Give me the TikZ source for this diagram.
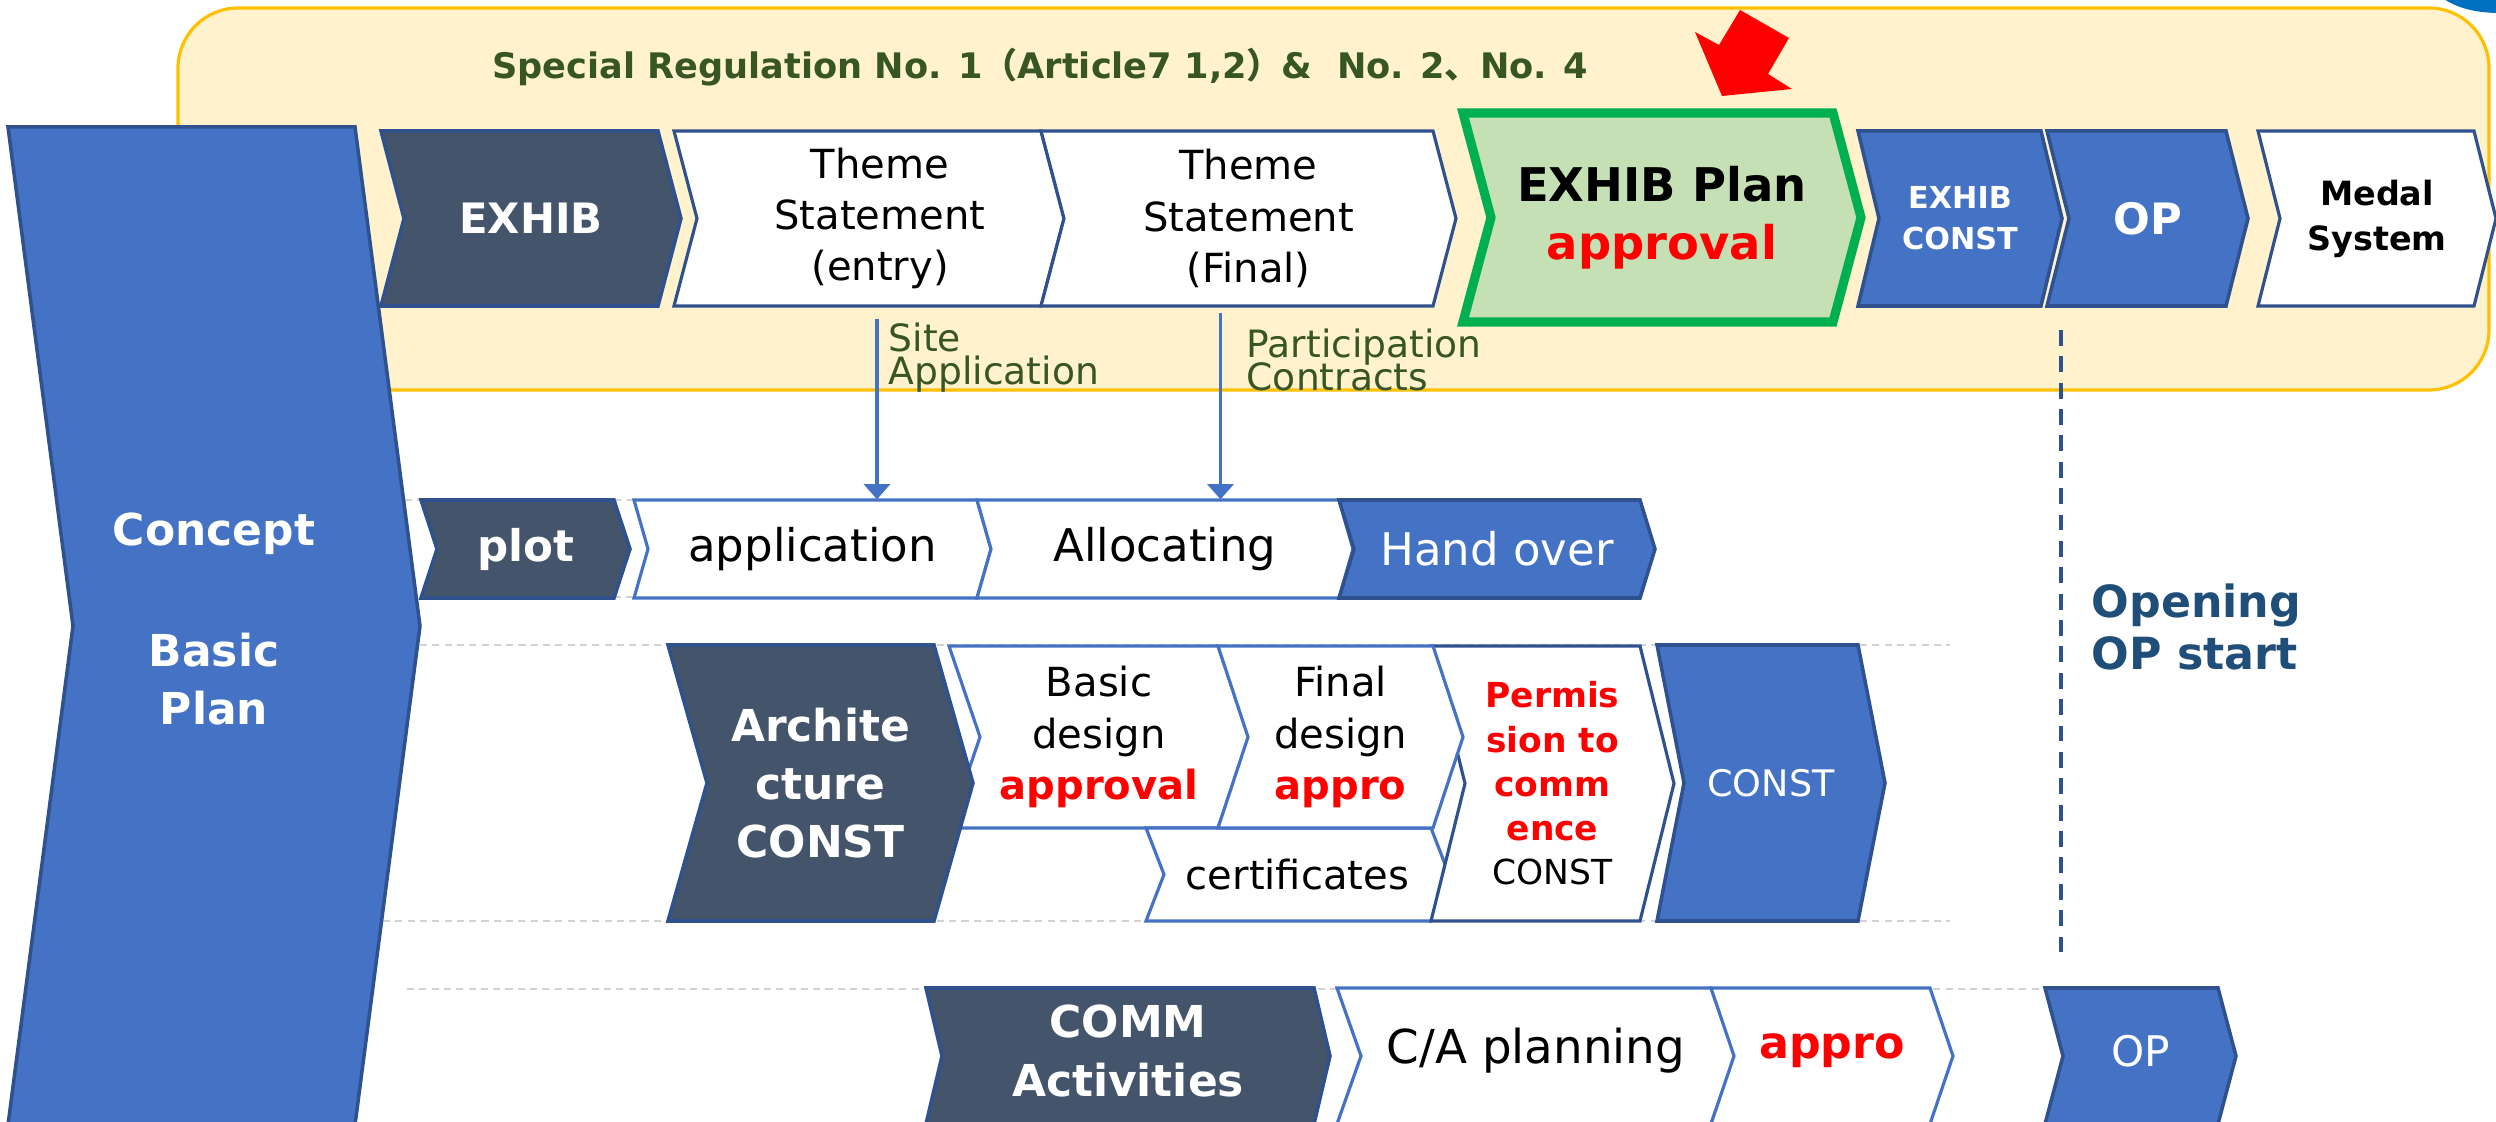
\documentclass[tikz,border=0pt]{standalone}
\usepackage{fontspec}
\setmainfont{DejaVu Sans}
\newfontfamily\jpfont{Noto Sans CJK JP}
\usepackage{tikz}
\usetikzlibrary{arrows.meta}
\usepackage{xcolor}

\definecolor{boxblue}{HTML}{4472C4}
\definecolor{edgeblue}{HTML}{2F528F}
\definecolor{slate}{HTML}{44546A}
\definecolor{planfill}{HTML}{C5E0B4}
\definecolor{planedge}{HTML}{00B050}
\definecolor{notefill}{HTML}{FFF2CC}
\definecolor{noteedge}{HTML}{FFC000}
\definecolor{notegreen}{HTML}{375623}
\definecolor{opblue}{HTML}{1F4E79}
\definecolor{blobblue}{HTML}{0070C0}

\newcommand{\redword}[1]{\textcolor{red}{\bfseries #1}}
% chevron: box style, text options, name, left x, right x, top y, bottom y, point depth, text
\newcommand{\chev}[9]{%
  \path[#1] (#4,#6) -- (#5,#6) -- (#5+#8,{(#6+#7)/2}) -- (#5,#7) -- (#4,#7) -- (#4+#8,{(#6+#7)/2}) -- cycle;
  \node[boxtext, minimum width={(#5-#4)*0.01cm}, minimum height={(#7-#6)*0.01cm}, #2] (#3) at ({(#4+#5)/2+#8/2},{(#6+#7)/2}) {#9};
}

\tikzset{
  darkbox/.style={fill=slate, draw=edgeblue, line width=1pt},
  bluebox/.style={fill=boxblue, draw=edgeblue, line width=1pt},
  whitebox/.style={fill=white, draw=boxblue, line width=0.9pt},
  planbox/.style={fill=planfill, draw=planedge, line width=2.6pt},
  boxtext/.style={align=center, inner sep=0pt, text=black},
  head/.style={text=white, font=\bfseries\fontsize{12.5}{16.5}\selectfont},
  plain/.style={font=\fontsize{11.4}{14.6}\selectfont},
  rowtwo/.style={font=\fontsize{12.8}{15}\selectfont},
  note/.style={text=notegreen, align=left, inner sep=0pt, font=\fontsize{10.7}{12.8}\selectfont},
  link/.style={-{Triangle[width=7.4pt,length=4.3pt]}, boxblue, line width=0.9pt},
  lane/.style={gray!35, dash pattern=on 2pt off 1.5pt, line width=0.6pt},
}

\begin{document}
\begin{tikzpicture}[x=0.01cm, y=-0.01cm]
  \useasboundingbox (0,0) rectangle (2496,1122);
  \clip (0,0) rectangle (2496,1122);

  % Regulation band
  \draw[noteedge, fill=notefill, line width=0.9pt, rounded corners=0.6cm] (178,8) rectangle (2489,390);
  \fill[blobblue] (2438,-5) .. controls (2455,8) and (2475,13) .. (2500,13) -- (2500,-5) -- cycle;
  \node[text=notegreen, font=\bfseries\fontsize{10}{12}\selectfont] (title) at (1040,67)
    {Special Regulation No. 1{\jpfont （}Article7 1,2{\jpfont ）}\&\ \ No. 2{\jpfont 、}No. 4};

  % Pointer to plan approval
  \fill[red] (1740,10) -- (1789,38) -- (1768,74) -- (1792,89) -- (1722,96) -- (1695,32) -- (1719,45) -- cycle;

  % Lanes
  \draw[lane] (405,500) -- (1640,500);
  \draw[lane] (614,597) -- (1640,597);
  \draw[lane] (420,645) -- (1950,645);
  \draw[lane] (383,921) -- (1950,921);
  \draw[lane] (407,989) -- (2060,989);

  % Concept / basic plan
  \chev{bluebox}{head, shift={(0,-7)}}{concept}{8}{355}{127}{1125}{65}{Concept\\[18pt]Basic\\Plan}

  % Exhibition row
  \chev{darkbox}{head, font=\bfseries\fontsize{11.9}{14}\selectfont}{exhib}{381}{658}{131}{306}{23}{EXHIB}
  \chev{whitebox, draw=edgeblue}{plain, shift={(11,0)}}{entry}{674}{1041}{131}{306}{23}{Theme\\Statement\\(entry)}
  \chev{whitebox, draw=edgeblue}{plain}{final}{1041}{1433}{131}{306}{23}{Theme\\Statement\\(Final)}
  \chev{bluebox}{text=white, font=\bfseries\fontsize{8.6}{11.7}\selectfont}{xconst}{1858}{2041}{131}{306}{21}{EXHIB\\CONST}
  \chev{planbox}{font=\bfseries\fontsize{13.2}{16.5}\selectfont}{plan}{1463}{1833}{113}{322}{28}{EXHIB Plan\\\redword{approval}}
  \chev{bluebox}{head, font=\bfseries\fontsize{12.3}{14}\selectfont}{opone}{2047}{2226}{131}{306}{22}{OP}
  \chev{whitebox, draw=edgeblue}{font=\bfseries\fontsize{9.5}{12.8}\selectfont}{medal}{2258}{2474}{131}{306}{22}{Medal\\System}

  % Plot row
  \chev{darkbox}{head, font=\bfseries\fontsize{12.4}{15}\selectfont}{plot}{421}{614}{500}{598}{16}{plot}
  \chev{whitebox}{rowtwo}{app}{634}{977}{500}{598}{14}{application}
  \chev{whitebox}{rowtwo}{alloc}{977}{1339}{500}{598}{14}{Allocating}
  \chev{bluebox}{rowtwo, text=white}{hand}{1339}{1640}{500}{598}{15}{Hand over}

  % Hand-offs into the plot row
  \coordinate (sitetop) at ([shift={(-3,12)}]entry.south);
  \coordinate (parttop) at ([shift={(-28,6)}]final.south);
  \draw[link] (sitetop) -- (sitetop |- app.north);
  \draw[link] (parttop) -- (parttop |- alloc.north);
  \node[note, anchor=north west] (sitelbl) at (888,322) {Site\\[-3.4pt]Application};
  \node[note, anchor=north west] (partlbl) at (1246,328) {Participation\\[-3.4pt]Contracts};

  % Architecture row
  \chev{whitebox}{plain}{basic}{949}{1218}{646}{828}{31}{Basic\\design\\\redword{approval}}
  \chev{whitebox}{plain}{cert}{1146}{1431}{828}{921}{18}{certificates}
  \chev{whitebox, draw=edgeblue}{font=\fontsize{9.8}{12.6}\selectfont}{perm}{1431}{1640}{646}{921}{34}{\redword{Permis}\\\redword{sion to}\\\redword{comm}\\\redword{ence}\\CONST}
  \chev{whitebox}{plain}{fdesign}{1218}{1433}{646}{828}{30}{Final\\design\\\redword{appro}}
  \chev{darkbox}{head}{arch}{668}{934}{645}{921}{39}{Archite\\cture\\CONST}
  \chev{bluebox}{text=white, font=\fontsize{10.4}{12}\selectfont}{const}{1657}{1858}{645}{921}{27}{CONST}

  % Communication row
  \chev{darkbox}{head, shift={(0,-5)}}{comm}{926}{1314}{988}{1124}{16}{COMM\\Activities}
  \chev{whitebox}{font=\fontsize{13.3}{15}\selectfont, shift={(0,-5)}}{capl}{1337}{1711}{988}{1124}{24}{C/A planning}
  \chev{whitebox}{font=\fontsize{12.6}{15}\selectfont, shift={(0,-5)}}{commappro}{1711}{1930}{988}{1124}{23}{\redword{appro}}
  \chev{bluebox}{text=white, font=\fontsize{12}{14}\selectfont, shift={(0,-5)}}{optwo}{2045}{2218}{988}{1124}{18}{OP}

  % Opening marker
  \draw[edgeblue, line width=1pt, dash pattern=on 4.5pt off 3pt] (2061,330) -- (2061,962);
  \node[text=opblue, align=left, anchor=west, inner sep=0pt, font=\bfseries\fontsize{12.6}{14.8}\selectfont] (opening) at (2091,627) {Opening\\OP start};
\end{tikzpicture}
\end{document}
